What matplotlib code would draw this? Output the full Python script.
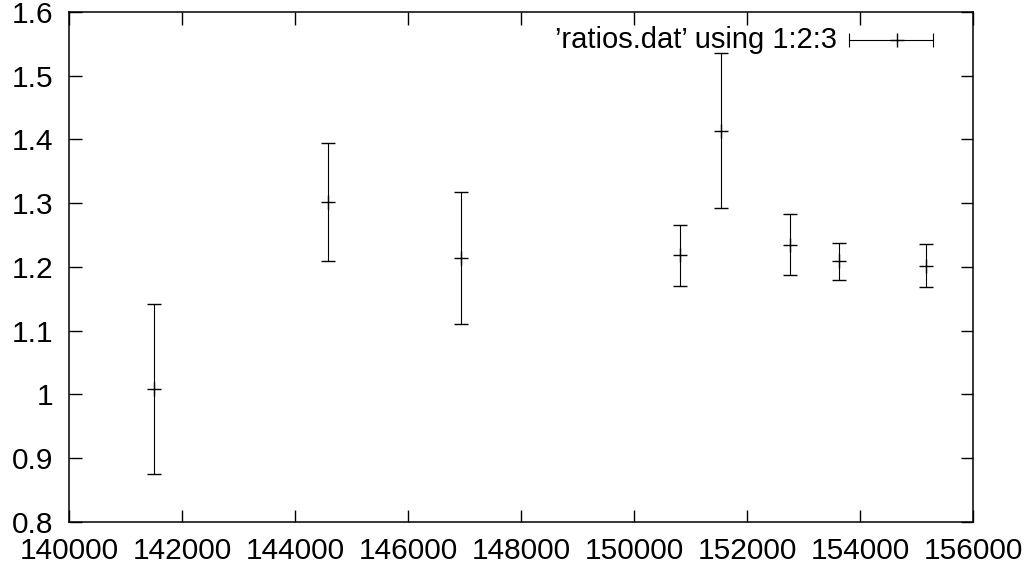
import matplotlib
matplotlib.use("Agg")
import matplotlib.pyplot as plt

x_vals = [141500, 144580, 146930, 150815, 151530, 152755, 153635, 155170]
y_vals = [1.008, 1.302, 1.214, 1.218, 1.414, 1.235, 1.209, 1.202]
y_err = [0.133, 0.093, 0.103, 0.048, 0.121, 0.048, 0.029, 0.034]
x_ticks = [140000, 142000, 144000, 146000, 148000, 150000, 152000, 154000, 156000]
y_ticks = [0.8, 0.9, 1.0, 1.1, 1.2, 1.3, 1.4, 1.5, 1.6]
y_tick_labels = ["0.8", "0.9", "1", "1.1", "1.2", "1.3", "1.4", "1.5", "1.6"]
legend_label = "\u2019ratios.dat\u2019 using 1:2:3"

plt.rcParams['font.family'] = ['Liberation Sans', 'DejaVu Sans']

fig = plt.figure(figsize=(10.34, 5.71), dpi=100)
ax = fig.add_axes([0.0667, 0.0863, 0.8744, 0.8926])

ax.errorbar(x_vals, y_vals, yerr=y_err, fmt='+', color='black', ecolor='black',
            elinewidth=0.8, capsize=4.7, capthick=0.8, markersize=9.5, markeredgewidth=1.0)

ax.set_xlim(140000, 156000)
ax.set_ylim(0.8, 1.6)
ax.set_xticks(x_ticks)
ax.set_xticklabels([str(t) for t in x_ticks])
ax.set_yticks(y_ticks)
ax.set_yticklabels(y_tick_labels)
ax.tick_params(axis='both', direction='in', length=9, width=1, labelsize=21.5,
               top=True, right=True)
ax.tick_params(axis='x', pad=11)
ax.tick_params(axis='y', pad=11)
for s in ax.spines.values():
    s.set_linewidth(1.1)

# legend (gnuplot style key)
tr = ax.transAxes
ax.text(0.8496, 0.945, legend_label, transform=tr, ha='right', va='center',
        fontsize=21)
ax.plot([0.8628, 0.9557], [0.945, 0.945], transform=tr, color='black', lw=0.8,
        clip_on=False)
ax.plot([0.8628, 0.9557], [0.945, 0.945], transform=tr, color='black', lw=0,
        marker='|', markersize=9.4, markeredgewidth=0.8, clip_on=False)
ax.plot([0.916], [0.945], transform=tr, color='black', marker='+', markersize=9.5,
        markeredgewidth=1.0, clip_on=False)

fig.savefig("out.png", dpi=100)
